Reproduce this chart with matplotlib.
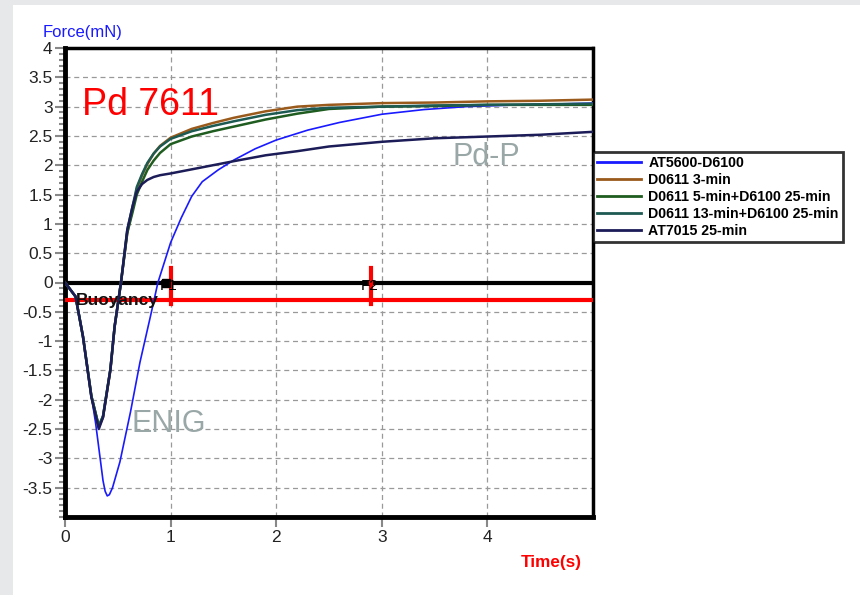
import numpy as np
import matplotlib
matplotlib.use("Agg")
from matplotlib import pyplot as plt
from matplotlib.patches import Rectangle
from matplotlib.ticker import MultipleLocator

plt.rcParams['font.family'] = ['Liberation Sans', 'DejaVu Sans']

# region data
labels = ['AT5600-D6100', 'D0611 3-min', 'D0611 5-min+D6100 25-min',
          'D0611 13-min+D6100 25-min', 'AT7015 25-min']
colors = ['#1a1aff', '#9a5a1c', '#1f5c1f', '#1d5a52', '#1c1c58']

t_blue = [0, 0.1, 0.17, 0.25, 0.29, 0.33, 0.36, 0.38, 0.40, 0.42, 0.45, 0.52, 0.62, 0.71, 0.81,
          0.88, 1.0, 1.1, 1.2, 1.3, 1.45, 1.6, 1.8, 2.0, 2.3, 2.6, 3.0, 3.4, 3.8, 4.3, 5.0]
f_blue = [0, -0.24, -0.92, -1.94, -2.4, -2.96, -3.38, -3.56, -3.64, -3.62, -3.5, -3.06, -2.21,
          -1.36, -0.57, 0.0, 0.68, 1.1, 1.47, 1.72, 1.92, 2.09, 2.28, 2.43, 2.6, 2.73, 2.87, 2.95,
          3.0, 3.03, 3.06]

t_dark = [0, 0.1, 0.17, 0.25, 0.32, 0.36, 0.43, 0.47, 0.53, 0.59, 0.64, 0.68, 0.73, 0.78,
          0.84, 0.9, 1.0, 1.2, 1.4, 1.6, 1.9, 2.2, 2.5, 3.0, 3.5, 4.0, 4.5, 5.0]
f_brown = [0, -0.24, -0.92, -1.94, -2.47, -2.3, -1.5, -0.75, 0.0, 0.85, 1.25, 1.6, 1.83, 2.02,
           2.2, 2.33, 2.47, 2.62, 2.72, 2.81, 2.92, 3.0, 3.03, 3.06, 3.07, 3.09, 3.1, 3.12]
f_green = [0, -0.24, -0.92, -1.94, -2.45, -2.28, -1.48, -0.75, 0.0, 0.85, 1.2, 1.5, 1.72, 1.92,
           2.08, 2.21, 2.36, 2.49, 2.58, 2.66, 2.78, 2.88, 2.96, 3.0, 3.01, 3.03, 3.03, 3.03]
f_teal = [0, -0.24, -0.92, -1.94, -2.45, -2.28, -1.48, -0.75, 0.0, 0.9, 1.3, 1.63, 1.85, 2.04,
          2.2, 2.32, 2.45, 2.58, 2.67, 2.75, 2.86, 2.94, 2.98, 3.0, 3.02, 3.03, 3.04, 3.05]
f_navy = [0, -0.24, -0.92, -1.96, -2.5, -2.3, -1.48, -0.75, 0.0, 0.9, 1.3, 1.55, 1.68, 1.75,
          1.8, 1.83, 1.86, 1.93, 2.0, 2.07, 2.17, 2.24, 2.32, 2.4, 2.46, 2.49, 2.52, 2.57]

buoyancy = -0.3
f_marks = [1.0, 2.9]
f_names = ['F1', 'F2']
# endregion

fig = plt.figure(figsize=(8.6, 5.95), dpi=100, facecolor='#e6e8ea')
fig.patches.append(Rectangle((13 / 860, 0), 1, 1 - 5 / 595, transform=fig.transFigure,
                             facecolor='white', edgecolor='none', zorder=-5))

ax = fig.add_axes([65 / 860, 1 - 517 / 595, 528 / 860, 469 / 595])
ax.set_zorder(2)
ax.set_xlim(0, 5)
ax.set_ylim(-4, 4)

ax.axhline(0, color='black', lw=3, zorder=3)
ax.axhline(buoyancy, color='#ff0000', lw=3, zorder=3)
for x, name in zip(f_marks, f_names):
    ax.plot([x, x], [-0.36, 0.25], color='#ff0000', lw=3, zorder=4)
    ax.text(x - 0.1, -0.12, name, fontsize=11, color='black', zorder=6)
ax.plot([0.96], [0.0], marker='s', color='black', ms=6, zorder=5)

series = [(t_blue, f_blue), (t_dark, f_brown), (t_dark, f_green), (t_dark, f_teal), (t_dark, f_navy)]
widths = [1.2, 1.8, 1.8, 1.8, 1.8]
for (tt, ff), c, lab, w in zip(series, colors, labels, widths):
    ax.plot(tt, ff, color=c, lw=w, label=lab, zorder=5)

ax.text(0.1, buoyancy, 'Buoyancy', fontsize=12.5, fontweight='bold', color='#111111',
        va='center', zorder=6)
ax.text(0.16, 3.02, 'Pd 7611', fontsize=27, color='#ff0000', va='center')
ax.text(3.67, 2.14, 'Pd-P', fontsize=22, color='#9aa7a7', va='center')
ax.text(0.63, -2.42, 'ENIG', fontsize=22, color='#9aa7a7', va='center')

ax.set_xticks([0, 1, 2, 3, 4])
ax.set_yticks(np.arange(-3.5, 4.01, 0.5))
ax.set_yticklabels(['%g' % v for v in np.arange(-3.5, 4.01, 0.5)])
ax.yaxis.set_minor_locator(MultipleLocator(0.1))
ax.tick_params(axis='both', which='major', labelsize=12.5, colors='#888888', labelcolor='#222222',
               length=7, width=1.5, pad=2)
ax.tick_params(axis='y', which='minor', colors='#888888', length=4, width=1.5)
ax.grid(True, which='major', color='#999999', ls=(0, (4, 3)), lw=0.9)

for side in ['left', 'bottom']:
    ax.spines[side].set_linewidth(3.5)
ax.spines['right'].set_linewidth(2.5)
ax.spines['top'].set_linewidth(2.5)
ax.spines['top'].set_linestyle((0, (2, 1)))

fig.text(43 / 860, 1 - 32 / 595, 'Force(mN)', fontsize=12, color='#1a1aff', va='center')
fig.text(521 / 860, 1 - 563 / 595, 'Time(s)', fontsize=12.3, color='#ff0000',
         fontweight='bold', va='center')

leg = fig.legend(loc='upper left', bbox_to_anchor=(593 / 860, 1 - 152 / 595),
                 prop={'weight': 'bold', 'size': 10.2}, frameon=True, fancybox=False,
                 handlelength=3.1, handletextpad=0.5, borderpad=0.3, borderaxespad=0,
                 labelspacing=0.2)
leg.set_zorder(10)
leg.get_frame().set_edgecolor('black')
leg.get_frame().set_linewidth(2)
for line in leg.get_lines():
    line.set_linewidth(2)

fig.savefig('out.png', dpi=100, facecolor=fig.get_facecolor())
